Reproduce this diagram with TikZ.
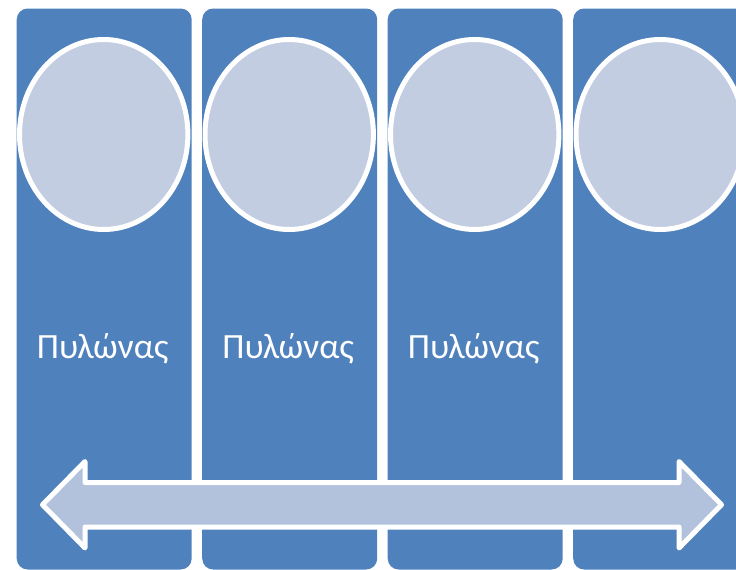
\documentclass[tikz,border=0pt]{standalone}
\usepackage{fontspec}
\setmainfont{Carlito}
\usetikzlibrary{shapes.geometric}
\definecolor{colblue}{HTML}{4F81BD}
\definecolor{circfill}{HTML}{C3CDE1}
\definecolor{arrfill}{HTML}{B2C2DC}
\tikzset{
  pillar/.style={fill=colblue, draw=none, rounded corners=11pt},
  disc/.style={ellipse, fill=circfill, draw=white, line width=5pt, minimum width=168.4pt, minimum height=190pt, inner sep=0pt},
  pillarlabel/.style={text=white, font=\fontsize{35.5}{42}\selectfont, inner sep=0pt, anchor=base},
  dblarrow/.style={fill=arrfill, draw=white, line width=5pt, line join=round}
}
\begin{document}
\begin{tikzpicture}[x=1pt,y=-1pt]
\useasboundingbox (0,0) rectangle (736,570);
\clip (0,0) rectangle (736,570);
\foreach \i in {0,1,2,3}{
  \pgfmathsetmacro{\xl}{16.7+185.5*\i}
  \pgfmathsetmacro{\xc}{\xl+87}
  \fill[pillar] (\xl,8.5) rectangle ++(175,561) coordinate (p\i);
  \node[disc] (c\i) at (\xc,134.5) {};
}
\foreach \i in {0,1,2}{
  \pgfmathsetmacro{\xc}{16.7+185.5*\i+86}
  \node[pillarlabel] (t\i) at (\xc,358) {Πυλώνας};
}
\coordinate (lt) at (42.5,504.75);
\coordinate (rt) at (721.5,504.75);
\draw[dblarrow] (lt) -- (85,461.5) -- (85,482.5) -- (679,482.5) -- (679,461.5) -- (rt)
  -- (679,548) -- (679,527) -- (85,527) -- (85,548) -- cycle;
\end{tikzpicture}
\end{document}
